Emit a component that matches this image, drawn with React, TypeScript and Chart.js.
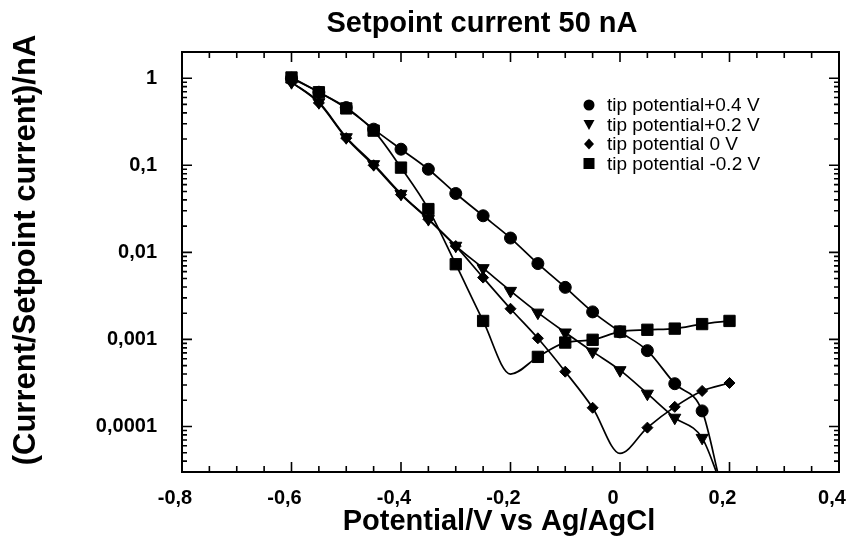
import React, { useEffect, useRef } from 'react';
import { Chart, registerables } from 'chart.js';

Chart.register(...registerables);

// ---- Data ----
const circleX = [-0.6, -0.55, -0.5, -0.45, -0.4, -0.35, -0.3, -0.25, -0.2, -0.15, -0.1, -0.05, 0, 0.05, 0.1, 0.15];
const circleY = [1.0, 0.69, 0.46, 0.26, 0.153, 0.09, 0.0474, 0.0263, 0.0146, 0.00743, 0.00396, 0.00207, 0.00122, 0.000743, 0.00031, 0.000151];
const circleFitX = [0.182];
const circleFitY = [2.4e-5];

const triangleX = [-0.6, -0.55, -0.5, -0.45, -0.4, -0.35, -0.3, -0.25, -0.2, -0.15, -0.1, -0.05, 0, 0.05, 0.1, 0.15];
const triangleY = [0.9, 0.53, 0.21, 0.103, 0.047, 0.0241, 0.0119, 0.00658, 0.00361, 0.00203, 0.0012, 0.000724, 0.000443, 0.000238, 0.000126, 0.000074];
const triangleFitX = [0.182];
const triangleFitY = [2.4e-5];

const diamondX = [-0.6, -0.55, -0.5, -0.45, -0.4, -0.35, -0.3, -0.25, -0.2, -0.15, -0.1, -0.05, 0.05, 0.1, 0.15, 0.2];
const diamondY = [0.9, 0.52, 0.205, 0.1, 0.046, 0.024, 0.0118, 0.00513, 0.00225, 0.00103, 0.000426, 0.000164, 0.000097, 0.000168, 0.000256, 0.000316];
const diamondFitX = [0.0];
const diamondFitY = [4.9e-5];

const squareX = [-0.6, -0.55, -0.5, -0.45, -0.4, -0.35, -0.3, -0.25, -0.15, -0.1, -0.05, 0, 0.05, 0.1, 0.15, 0.2];
const squareY = [1.02, 0.69, 0.45, 0.25, 0.094, 0.0314, 0.0073, 0.00163, 0.00063, 0.00092, 0.00099, 0.00123, 0.00129, 0.00133, 0.0015, 0.00163];
const squareFitX = [-0.2];
const squareFitY = [0.0004];

const seriesNames = ['tip potential+0.4 V', 'tip potential+0.2 V', 'tip potential 0 V', 'tip potential -0.2 V'];

const xMajor = [-0.8, -0.6, -0.4, -0.2, 0, 0.2, 0.4];
const xMajorLabels = ['-0,8', '-0,6', '-0,4', '-0,2', '0', '0,2', '0,4'];
const yMajor = [1e-4, 1e-3, 1e-2, 1e-1, 1];
const yMajorLabels = ['0,0001', '0,001', '0,01', '0,1', '1'];

const titleText = 'Setpoint current 50 nA';
const xTitle = 'Potential/V vs Ag/AgCl';
const yTitle = '(Current/Setpoint current)/nA';

const FONT = '"Liberation Sans", Arial, Helvetica, sans-serif';

function buildSeries(xs: number[], ys: number[], fx: number[], fy: number[]) {
  const pts = xs.map((x, i) => ({ x, y: ys[i], m: true }))
    .concat(fx.map((x, i) => ({ x, y: fy[i], m: false })));
  pts.sort((a, b) => a.x - b.x);
  return pts;
}

function makeDataset(label: string, pts: { x: number; y: number; m: boolean }[], style: string, r: number, rot = 0) {
  return {
    label,
    data: pts.map(p => ({ x: p.x, y: p.y })),
    pointRadius: pts.map(p => (p.m ? r : 0)),
    pointHoverRadius: pts.map(p => (p.m ? r : 0)),
    pointStyle: style,
    pointRotation: rot,
    borderColor: '#000',
    backgroundColor: '#000',
    pointBackgroundColor: '#000',
    pointBorderColor: '#000',
    pointBorderWidth: 1,
    borderWidth: 1.7,
    fill: false,
    cubicInterpolationMode: 'monotone',
  } as any;
}

function drawSymbol(ctx: CanvasRenderingContext2D, kind: string, x: number, y: number) {
  ctx.beginPath();
  if (kind === 'circle') {
    ctx.arc(x, y, 5.5, 0, Math.PI * 2);
  } else if (kind === 'triangle') {
    ctx.moveTo(x - 5.5, y - 4.5);
    ctx.lineTo(x + 5.5, y - 4.5);
    ctx.lineTo(x, y + 5.5);
    ctx.closePath();
  } else if (kind === 'diamond') {
    ctx.moveTo(x, y - 5.5);
    ctx.lineTo(x + 5, y);
    ctx.lineTo(x, y + 5.5);
    ctx.lineTo(x - 5, y);
    ctx.closePath();
  } else {
    ctx.rect(x - 5.5, y - 5.5, 11, 11);
  }
  ctx.fill();
}

const framePlugin = {
  id: 'frameTicks',
  afterDatasetsDraw(chart: any) {
    const { ctx, chartArea, scales } = chart;
    const { left, right, top, bottom } = chartArea;
    const xs = scales.x;
    const ys = scales.y;
    ctx.save();
    ctx.strokeStyle = '#000';
    ctx.lineWidth = 2;
    ctx.strokeRect(left, top, right - left, bottom - top);

    ctx.lineWidth = 1.6;
    ctx.beginPath();
    // x ticks: majors and 3 minors between
    for (let i = 0; i < xMajor.length; i++) {
      const v = xMajor[i];
      const px = xs.getPixelForValue(v);
      ctx.moveTo(px, bottom); ctx.lineTo(px, bottom - 10);
      ctx.moveTo(px, top); ctx.lineTo(px, top + 10);
      if (i < xMajor.length - 1) {
        const step = (xMajor[i + 1] - v) / 4;
        for (let k = 1; k < 4; k++) {
          const mx = xs.getPixelForValue(v + k * step);
          ctx.moveTo(mx, bottom); ctx.lineTo(mx, bottom - 6);
          ctx.moveTo(mx, top); ctx.lineTo(mx, top + 6);
        }
      }
    }
    // y ticks (log): majors at decades, minors at 2..9
    const ymin = ys.min, ymax = ys.max;
    for (let e = Math.floor(Math.log10(ymin)); e <= Math.ceil(Math.log10(ymax)); e++) {
      for (let m = 1; m <= 9; m++) {
        const v = m * Math.pow(10, e);
        if (v < ymin * 0.999 || v > ymax * 1.001) continue;
        const py = ys.getPixelForValue(v);
        const len = m === 1 ? 10 : 5;
        ctx.moveTo(left, py); ctx.lineTo(left + len, py);
        ctx.moveTo(right, py); ctx.lineTo(right - len, py);
      }
    }
    ctx.stroke();

    // titles
    ctx.fillStyle = '#000';
    ctx.textAlign = 'center';
    ctx.textBaseline = 'alphabetic';
    ctx.font = `bold 29px ${FONT}`;
    ctx.fillText(titleText, 482, 32);
    ctx.fillText(xTitle, 499, 530);
    ctx.save();
    ctx.translate(35, 250);
    ctx.rotate(-Math.PI / 2);
    ctx.font = `bold 31px ${FONT}`;
    ctx.fillText(yTitle, 0, 0);
    ctx.restore();

    // legend
    const kinds = ['circle', 'triangle', 'diamond', 'square'];
    const rows = [105, 124.5, 144, 163.5];
    ctx.font = `19px ${FONT}`;
    ctx.textAlign = 'left';
    ctx.textBaseline = 'middle';
    for (let i = 0; i < 4; i++) {
      drawSymbol(ctx, kinds[i], 589, rows[i]);
      ctx.fillText(seriesNames[i], 607, rows[i] + 1);
    }
    ctx.restore();
  },
};

export default function App() {
  const ref = useRef<HTMLCanvasElement>(null);
  useEffect(() => {
    document.body.style.margin = '0';
    const tickFont = { family: FONT, size: 20, weight: 'bold' as const };
    const chart = new Chart(ref.current!, {
      type: 'line',
      data: {
        datasets: [
          makeDataset(seriesNames[0], buildSeries(circleX, circleY, circleFitX, circleFitY), 'circle', 6),
          makeDataset(seriesNames[1], buildSeries(triangleX, triangleY, triangleFitX, triangleFitY), 'triangle', 7, 180),
          makeDataset(seriesNames[2], buildSeries(diamondX, diamondY, diamondFitX, diamondFitY), 'rectRot', 5.5),
          makeDataset(seriesNames[3], buildSeries(squareX, squareY, squareFitX, squareFitY), 'rect', 8),
        ],
      },
      options: {
        responsive: false,
        animation: false,
        events: [],
        layout: { padding: { top: 52, left: 0, right: 8, bottom: 0 } },
        plugins: {
          legend: { display: false },
          tooltip: { enabled: false },
          title: { display: false },
        },
        scales: {
          x: {
            type: 'linear',
            min: -0.8,
            max: 0.4,
            grid: { display: false, drawTicks: false },
            border: { display: false },
            ticks: {
              color: '#000',
              font: tickFont,
              padding: 14,
              labelOffset: -7,
              autoSkip: false,
              maxRotation: 0,
              callback: (_v: any, i: number) => xMajorLabels[i] ?? '',
            },
            afterBuildTicks: (s: any) => { s.ticks = xMajor.map(v => ({ value: v })); },
            afterFit: (s: any) => { s.height = 73; s.paddingLeft = 0; s.paddingRight = 0; },
          },
          y: {
            type: 'logarithmic',
            min: 3e-5,
            max: 2,
            grid: { display: false, drawTicks: false },
            border: { display: false },
            ticks: {
              color: '#000',
              font: tickFont,
              padding: 25,
              autoSkip: false,
              callback: (_v: any, i: number) => yMajorLabels[i] ?? '',
            },
            afterBuildTicks: (s: any) => { s.ticks = yMajor.map(v => ({ value: v })); },
            afterFit: (s: any) => { s.width = 182; s.paddingTop = 0; s.paddingBottom = 0; },
          },
        },
      } as any,
      plugins: [framePlugin],
    });
    return () => chart.destroy();
  }, []);
  return (
    <div style={{ width: 848, height: 545 }}>
      <canvas ref={ref} width={848} height={545} />
    </div>
  );
}
